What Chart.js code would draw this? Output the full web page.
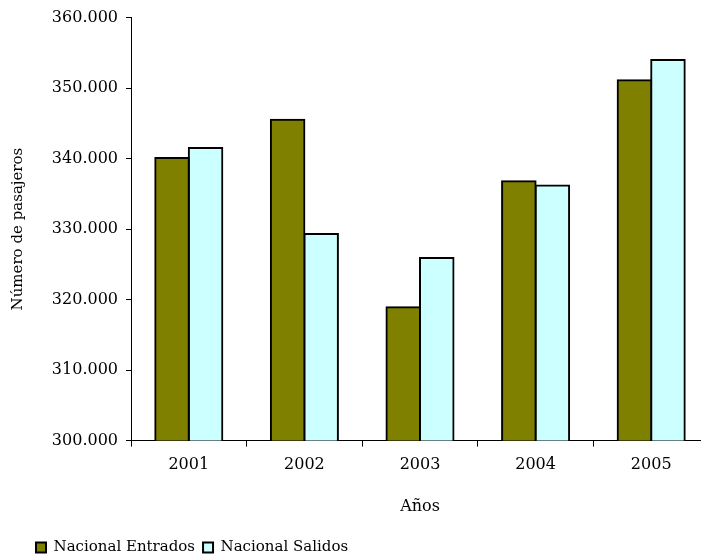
<!DOCTYPE html>
<html>
<head>
<meta charset="utf-8">
<script src="https://cdn.jsdelivr.net/npm/chart.js@4.4.0/dist/chart.umd.min.js"></script>
<style>
	html, body { margin: 0; padding: 0; background: #fff; overflow: hidden; }
	#wrap { width: 712px; height: 557px; }
</style>
</head>
<body>
<div id="wrap"><canvas id="chart" width="712" height="557"></canvas></div>
<script>
	"use strict";

	// data
	var years    = ['2001', '2002', '2003', '2004', '2005'];
	var entrados = [340100, 345500, 318900, 336800, 351100];
	var salidos  = [341500, 329300, 325900, 336200, 354000];
	var yMin = 300000, yMax = 360000, yStep = 10000;

	var serif = 'DejaVu Serif, Liberation Serif, serif';

	function fmt( v ) {
		return String(v).replace(/\B(?=(\d{3})+(?!\d))/g, '.');
	}

	// move the legend to where the original sits
	const legend_shift = {
		id: 'legend_shift',
		afterLayout: (chart) => {
			chart.legend.left += 28;
			chart.legend.top += 8;
		}
	};

	const data = {
		labels: years,
		datasets: [{
			label: 'Nacional Entrados',
			data: entrados,
			backgroundColor: '#808000',
			borderColor: '#000000',
			borderWidth: 2,
			inflateAmount: 1,
			barPercentage: 1,
			categoryPercentage: 0.58
		}, {
			label: 'Nacional Salidos',
			data: salidos,
			backgroundColor: '#CCFFFF',
			borderColor: '#000000',
			borderWidth: 2,
			inflateAmount: 1,
			barPercentage: 1,
			categoryPercentage: 0.58
		}]
	};

	const config = {
		type: 'bar',
		data: data,
		plugins: [legend_shift],
		options: {
			responsive: false,
			animation: false,
			devicePixelRatio: 1,
			layout: { padding: { top: 17, right: 3, left: 0, bottom: 0 } },
			scales: {
				x: {
					grid: { drawOnChartArea: false, tickLength: 6, color: '#000' },
					border: { color: '#000', width: 1 },
					ticks: { color: '#000', padding: 9, font: { family: serif, size: 16 } },
					title: {
						display: true, text: 'Años', color: '#000',
						font: { family: serif, size: 16 },
						padding: { top: 13, bottom: 8 }
					}
				},
				y: {
					min: yMin,
					max: yMax,
					afterFit: (scale) => { scale.width = 131; },
					grid: { drawOnChartArea: false, tickLength: 5, color: '#000' },
					border: { color: '#000', width: 1 },
					ticks: {
						stepSize: yStep, color: '#000', padding: 8,
						font: { family: serif, size: 16 },
						callback: (v) => fmt(v)
					},
					title: {
						display: true, text: 'Número de pasajeros', color: '#000',
						font: { family: serif, size: 15 },
						padding: { top: 9, bottom: 0 }
					}
				}
			},
			plugins: {
				tooltip: { enabled: false },
				legend: {
					position: 'bottom',
					align: 'start',
					labels: {
						color: '#000',
						boxWidth: 10,
						boxHeight: 10,
						padding: 8,
						font: { family: serif, size: 15 }
					}
				}
			}
		}
	};

	var ctx = document.getElementById('chart').getContext('2d');
	new Chart( ctx, config );
</script>
</body>
</html>
